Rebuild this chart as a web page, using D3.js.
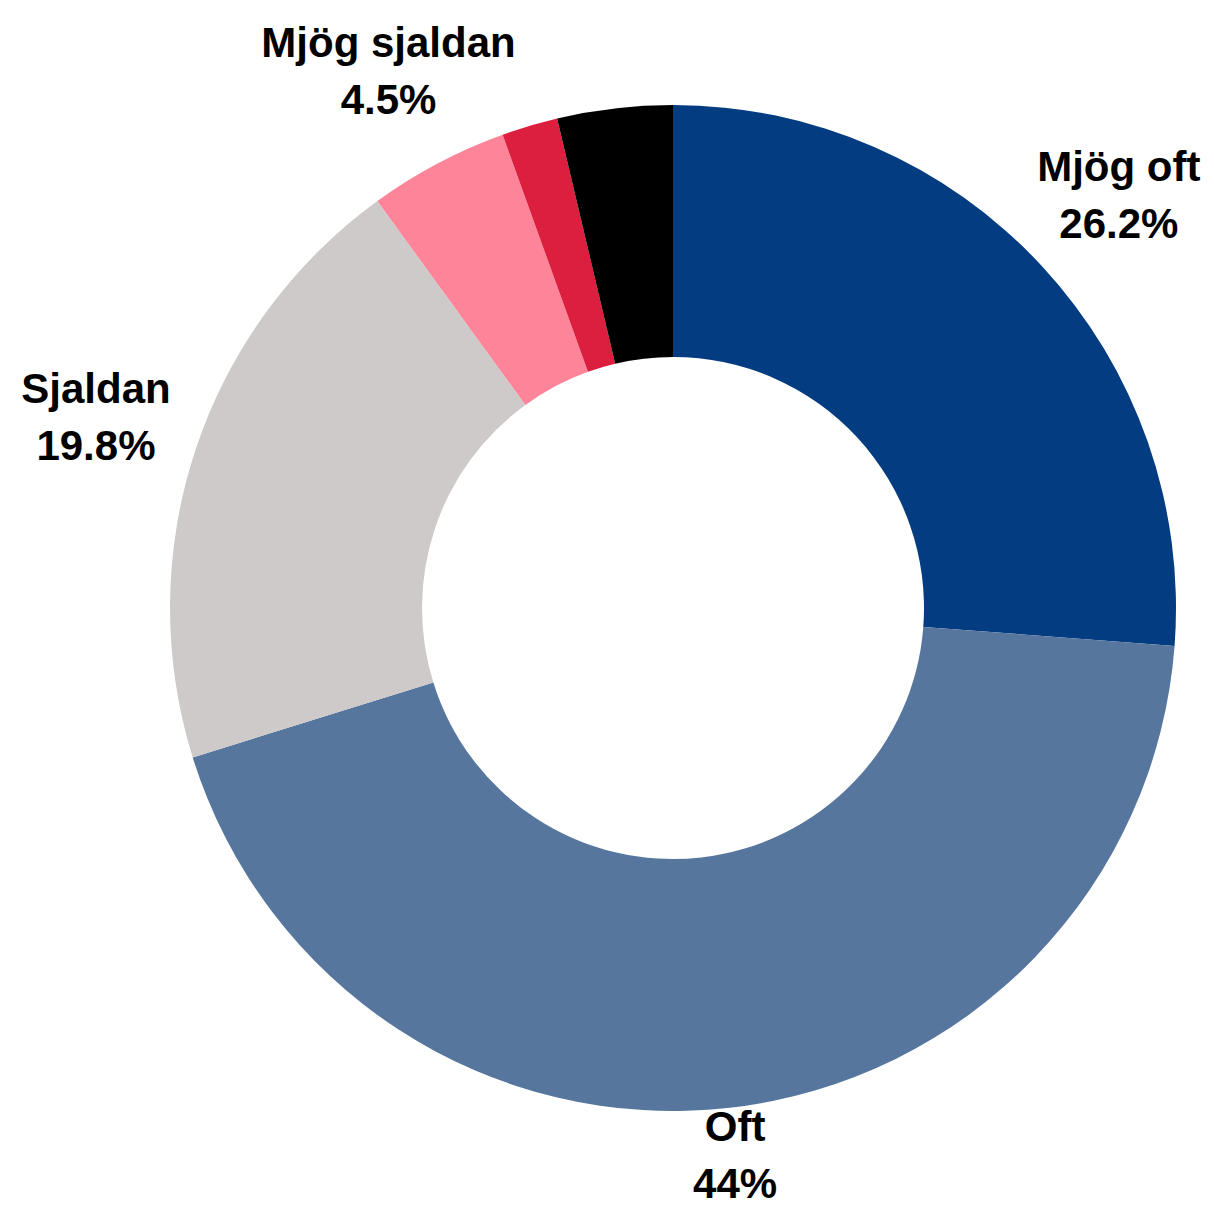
<!DOCTYPE html>
<html>
<head>
<meta charset="utf-8">
<script src="https://cdn.jsdelivr.net/npm/d3@7"></script>
<style>
  html, body { margin: 0; padding: 0; background: #fff; }
  svg { display: block; }
</style>
</head>
<body>
<script>
// slices, clockwise from 12 o'clock
var categories = ["Mjög oft", "Oft", "Sjaldan", "Mjög sjaldan", "Aldrei", "Veit ekki"];
var values = [26.2, 44, 19.8, 4.5, 1.8, 3.7];
var valueLabels = ["26.2%", "44%", "19.8%", "4.5%", null, null];
var colors = ["#033c80", "#56769e", "#cdcac9", "#fe8599", "#dc1f3e", "#000000"];

var width = 1214, height = 1207;
var cx = 673, cy = 608;
var outerR = 503, innerR = 251;
var labelR = 608;
var fontSize = 42, lineH = 57;
var capH = fontSize * 0.716;
var descent = fontSize * 0.21;
var halfH = (lineH + capH) / 2;

var svg = d3.select("body").append("svg")
    .attr("width", width)
    .attr("height", height);

var data = categories.map(function(c, i) {
  return {name: c, value: values[i], label: valueLabels[i], color: colors[i]};
});

var pie = d3.pie()
    .sort(null)
    .value(function(d) { return d.value; });

var arc = d3.arc()
    .innerRadius(innerR)
    .outerRadius(outerR);

var arcs = pie(data);

var g = svg.append("g").attr("transform", "translate(" + cx + "," + cy + ")");

g.selectAll("path.slice")
  .data(arcs)
  .enter().append("path")
    .attr("class", "slice")
    .attr("d", arc)
    .attr("fill", function(d) { return d.data.color; });

// labels sit on a ring along each slice's mid angle,
// pulled inward when the block would run off the bottom/top edge
var labels = g.selectAll("g.label")
  .data(arcs.filter(function(d) { return d.data.label; }))
  .enter().append("g")
    .attr("class", "label");

labels.each(function(d) {
  var a = (d.startAngle + d.endAngle) / 2;
  var s = Math.sin(a), c = Math.cos(a);
  var r = labelR;
  if (cy - r * c + halfH + descent > height) r = (height - halfH - descent - cy) / -c;
  if (cy - r * c - halfH < 2) r = (cy - 2 - halfH) / c;

  var grp = d3.select(this)
      .attr("transform", "translate(" + (r * s) + "," + (-r * c) + ")");
  var t = grp.append("text")
      .attr("text-anchor", "middle")
      .style("font-family", "'Liberation Sans', Arial, sans-serif")
      .style("font-weight", "bold")
      .style("font-size", fontSize + "px")
      .attr("fill", "#000");
  t.append("tspan").attr("x", 0).attr("y", -halfH + capH).text(d.data.name);
  t.append("tspan").attr("x", 0).attr("y", -halfH + capH + lineH).text(d.data.label);
});
</script>
</body>
</html>
